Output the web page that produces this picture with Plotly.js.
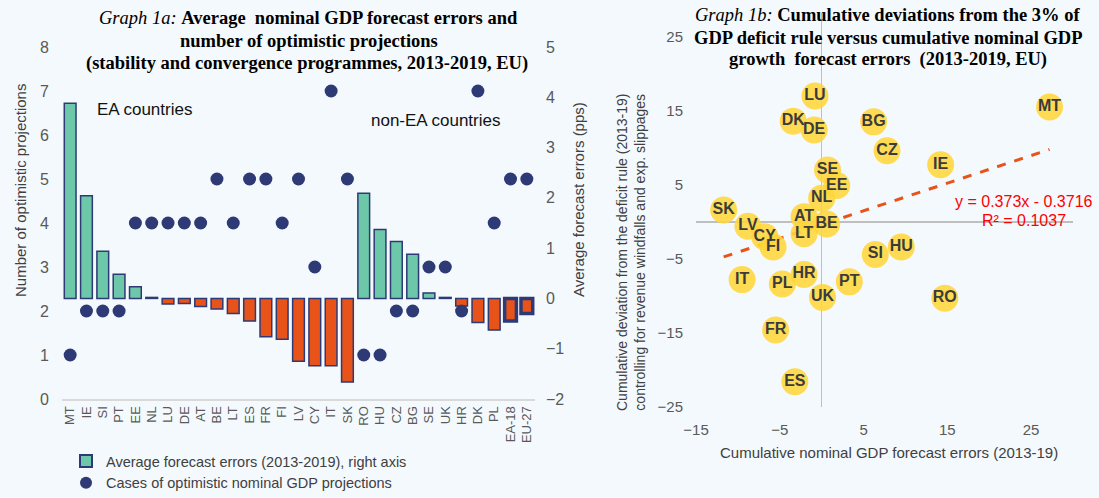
<!DOCTYPE html>
<html>
<head>
<meta charset="utf-8">
<script src="https://cdn.plot.ly/plotly-3.0.1.min.js"></script>
<style>
html,body{margin:0;padding:0;background:#F4F9FD;}
#chart{width:1099px;height:498px;}
</style>
</head>
<body>
<div id="chart"></div>
<script>
// ---------- Graph 1a data ----------
const categories = ['MT','IE','SI','PT','EE','NL','LU','DE','AT','BE','LT','ES','FR','FI','LV','CY','IT','SK','RO','HU','CZ','BG','SE','UK','HR','DK','PL','EA-18','EU-27'];
const avgForecastErrors = [3.88,2.04,0.94,0.48,0.23,0.02,-0.11,-0.10,-0.16,-0.21,-0.30,-0.45,-0.76,-0.81,-1.25,-1.34,-1.34,-1.66,2.09,1.37,1.13,0.88,0.11,0.02,-0.15,-0.48,-0.63,-0.45,-0.30];
const optimisticCases = [1,2,2,2,4,4,4,4,4,5,4,5,5,4,5,3,7,5,1,1,2,2,3,3,2,7,4,5,5];

// ---------- Graph 1b data ----------
const countryCodes = ['MT','IE','LU','DK','DE','BG','CZ','SE','EE','NL','SK','AT','BE','LV','CY','LT','FI','SI','HU','IT','PL','HR','PT','UK','FR','ES','RO'];
const gdpForecastErrors = [27.2,14.2,-0.8,-3.4,-0.9,6.2,7.8,0.7,1.8,0.0,-11.7,-2.1,0.6,-8.8,-6.8,-2.1,-5.8,6.4,9.5,-9.5,-4.7,-2.1,3.3,0.1,-5.5,-3.2,14.7];
const deficitDeviation = [15.5,7.7,17.0,13.6,12.4,13.5,9.6,7.0,4.9,3.2,1.6,0.7,-0.3,-0.6,-2.0,-1.6,-3.4,-4.4,-3.4,-7.8,-8.4,-7.1,-8.1,-10.2,-14.6,-21.6,-10.3];
const trendSlope = 0.373;
const trendIntercept = -0.3716;

// ---------- styling ----------
const W = 1099, H = 498;
const BG = '#F4F9FD';
const GREEN = '#6CC8A9', ORANGE = '#E8531A', NAVY = '#2E3A76';
const SANS = 'Liberation Sans, Arial, sans-serif';
const SERIF = 'Liberation Serif, Times New Roman, serif';
const px = v => v / W;
const py = v => 1 - v / H;

const barColors = avgForecastErrors.map(v => v >= 0 ? GREEN : ORANGE);
const barLineWidths = categories.map(c => (c.startsWith('EA') || c.startsWith('EU')) ? 3.5 : 1.5);

const xMin = Math.min(...gdpForecastErrors), xMax = Math.max(...gdpForecastErrors);
const trendX = [xMin, xMax];
const trendY = trendX.map(x => trendSlope * x + trendIntercept);

const traces = [
  {
    type: 'bar', x: categories, y: avgForecastErrors, xaxis: 'x', yaxis: 'y',
    name: 'Average forecast errors (2013-2019), right axis',
    width: 0.72,
    marker: {color: barColors, line: {color: NAVY, width: barLineWidths}},
    hoverinfo: 'x+y'
  },
  {
    type: 'scatter', mode: 'markers', x: categories, y: optimisticCases, xaxis: 'x', yaxis: 'y2',
    name: 'Cases of optimistic nominal GDP projections',
    marker: {color: NAVY, size: 13}
  },
  {
    type: 'scatter', mode: 'lines', x: trendX, y: trendY, xaxis: 'x2', yaxis: 'y3',
    line: {color: ORANGE, width: 3, dash: 'dash'}, showlegend: false, hoverinfo: 'skip'
  },
  {
    type: 'scatter', mode: 'markers+text', x: gdpForecastErrors, y: deficitDeviation, xaxis: 'x2', yaxis: 'y3',
    text: countryCodes, textposition: 'middle center',
    textfont: {family: SANS, size: 16, color: '#3B3B3B', weight: 'bold'},
    marker: {color: 'rgba(255,214,58,0.88)', size: 27},
    showlegend: false
  }
];

function ann(text, x, y, size, opts) {
  return Object.assign({
    text: text, xref: 'paper', yref: 'paper', x: px(x), y: py(y),
    xanchor: 'center', yanchor: 'middle', showarrow: false,
    font: {family: SANS, size: size, color: '#404040'}
  }, opts || {});
}
const titleFont = {family: SERIF, size: 18.5, color: '#000'};

const annotations = [
  ann('<i>Graph 1a:</i> <b>Average  nominal GDP forecast errors and</b>', 308, 18, 18, {font: titleFont}),
  ann('<b>number of optimistic projections</b>', 309, 41, 18, {font: titleFont}),
  ann('<b>(stability and convergence programmes, 2013-2019, EU)</b>', 307, 63, 18, {font: titleFont}),
  ann('<i>Graph 1b:</i> <b>Cumulative deviations from the 3% of</b>', 887, 15, 18, {font: titleFont}),
  ann('<b>GDP deficit rule versus cumulative nominal GDP</b>', 888, 38, 18, {font: titleFont}),
  ann('<b>growth  forecast errors  (2013-2019, EU)</b>', 888, 60, 18, {font: titleFont}),
  ann('EA countries', 95, 110, 17, {xanchor: 'left', font: {family: SANS, size: 17, color: '#111'}}),
  ann('non-EA countries', 369, 120, 17, {xanchor: 'left', font: {family: SANS, size: 17, color: '#111'}}),
  ann('Number of optimistic projections', 20, 191, 15, {textangle: -90}),
  ann('Average forecast errors (pps)', 578, 200, 15, {textangle: -90}),
  ann('Cumulative deviation from the deficit rule (2013-19)<br>controlling for revenue windfalls and exp. slippages', 631, 252, 14, {textangle: -90}),
  ann('Cumulative nominal GDP forecast errors (2013-19)', 889, 452, 15),
  ann('y = 0.373x - 0.3716', 1024, 202, 16, {font: {family: SANS, size: 16, color: '#FF0000'}}),
  ann('R² = 0.1037', 1024, 221, 16, {font: {family: SANS, size: 16, color: '#FF0000'}})
];

const tickFont = {family: SANS, size: 16, color: '#595959'};

const layout = {
  width: W, height: H,
  margin: {l: 0, r: 0, t: 0, b: 0, autoexpand: false},
  paper_bgcolor: BG, plot_bgcolor: BG,
  showlegend: true,
  legend: {
    x: px(66), y: py(445), xanchor: 'left', yanchor: 'top',
    bgcolor: 'rgba(0,0,0,0)', font: {family: SANS, size: 14.5, color: '#404040'},
    itemsizing: 'constant'
  },
  xaxis: {
    domain: [px(62), px(535)], anchor: 'y', type: 'category',
    range: [-0.5, categories.length - 0.5],
    tickangle: -90, tickfont: {family: SANS, size: 13, color: '#595959'},
    showline: true, linecolor: '#D9D9D9', linewidth: 2, ticks: '',
    showgrid: false, zeroline: false, fixedrange: true
  },
  yaxis: {
    domain: [py(399), py(47)], anchor: 'x', side: 'right',
    range: [-2, 5], dtick: 1, showgrid: false, zeroline: false,
    tickfont: tickFont, ticklabelstandoff: 10, ticks: ''
  },
  yaxis2: {
    overlaying: 'y', side: 'left', anchor: 'x',
    range: [0, 8], dtick: 1, showgrid: false, zeroline: false,
    tickfont: tickFont, ticklabelstandoff: 12, ticks: ''
  },
  xaxis2: {
    domain: [px(696), px(1073)], anchor: 'y3',
    range: [-15, 30], tick0: -15, dtick: 10,
    showgrid: false, showline: false, zeroline: true, zerolinecolor: '#BFBFBF', zerolinewidth: 1.5,
    tickfont: {family: SANS, size: 15, color: '#595959'}, ticklabelstandoff: 12, ticks: ''
  },
  yaxis3: {
    domain: [py(407), py(13)], anchor: 'x2',
    range: [-25, 28.2], tick0: -25, dtick: 10,
    showgrid: false, showline: false, zeroline: true, zerolinecolor: '#BFBFBF', zerolinewidth: 1.5,
    tickfont: {family: SANS, size: 15, color: '#595959'}, ticklabelstandoff: 12, ticks: ''
  },
  annotations: annotations
};

Plotly.newPlot('chart', traces, layout, {displayModeBar: false, staticPlot: true});
</script>
</body>
</html>
